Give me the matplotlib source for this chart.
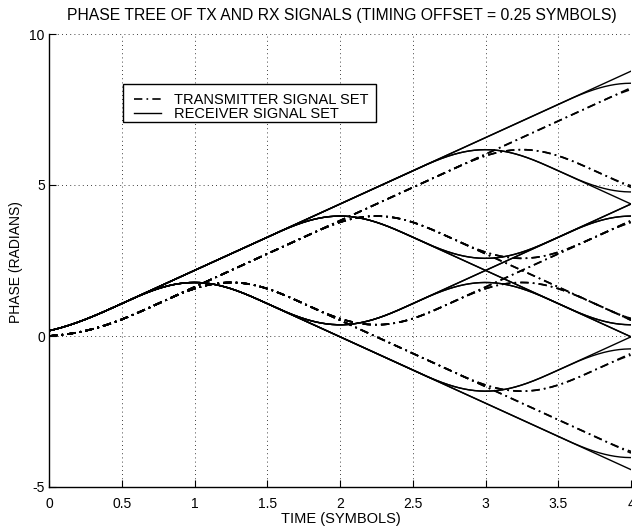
import numpy as np
import matplotlib.pyplot as plt
from matplotlib.lines import Line2D
from matplotlib.patches import Rectangle
from itertools import product

plt.rcParams['font.family'] = ['Liberation Sans', 'DejaVu Sans']

# 2RC CPM parameters of the phase tree
mod_index = 0.7          # h
pulse_len = 2            # raised cosine frequency pulse length (symbols)
timing_offset = 0.25     # receiver timing offset (symbols)
first_symbol = 1         # first symbol is fixed
n_free = 4               # free binary symbols that follow
pulse_start = -0.25      # start of the first symbol pulse at the transmitter

x_ticks = [0, 0.5, 1, 1.5, 2, 2.5, 3, 3.5, 4]
x_ticklabels = ['0', '0.5', '1', '1.5', '2', '2.5', '3', '3.5', '4']
y_ticks = [-5, 0, 5, 10]
y_ticklabels = ['-5', '0', '5', '10']


def phase_pulse(t):
    # integral of the LRC frequency pulse, rises 0 -> 1/2 over pulse_len
    t = np.clip(t, 0, pulse_len)
    return t / (2 * pulse_len) - np.sin(2 * np.pi * t / pulse_len) / (4 * np.pi)


def tx_phase(t, symbols):
    phi = np.zeros_like(t)
    for k, a in enumerate(symbols):
        s = pulse_start + k
        phi += a * (phase_pulse(t - s) - phase_pulse(-s))
    return 2 * np.pi * mod_index * phi


t = np.linspace(0, 4, 801)
sequences = [(first_symbol,) + rest for rest in product([1, -1], repeat=n_free)]

fig = plt.figure(figsize=(6.32, 5.27), dpi=100)
W, H = 632, 527
ax = fig.add_axes([49 / W, 1 - 487 / H, 582 / W, 453 / H])

dashdot = (5, 2.5, 1, 2.5)
for seq in sequences:
    ax.plot(t, tx_phase(t, seq), color='k', lw=1.2,
            dashes=dashdot, dash_capstyle='butt')
    ax.plot(t, tx_phase(t + timing_offset, seq), color='k', lw=1.0)

ax.set_xlim(0, 4)
ax.set_ylim(-5, 10)
ax.set_xticks(x_ticks)
ax.set_xticklabels(x_ticklabels)
ax.set_yticks(y_ticks)
ax.set_yticklabels(y_ticklabels)
ax.tick_params(direction='in', length=5, width=0.8, labelsize=10,
               top=False, right=False)
ax.tick_params(axis='x', pad=7)
ax.tick_params(axis='y', pad=3)
for side in ['top', 'right']:
    ax.spines[side].set_visible(False)
for side in ['left', 'bottom']:
    ax.spines[side].set_linewidth(1.0)
ax.grid(True, color='k', linestyle=(0, (1, 4)), lw=0.6)

fig.text(342 / W, 1 - 20 / H,
         'PHASE TREE OF TX AND RX SIGNALS (TIMING OFFSET = 0.25 SYMBOLS)',
         ha='center', va='baseline', fontsize=11.3)
fig.text(341 / W, 1 - 523 / H, 'TIME (SYMBOLS)', ha='center',
         va='baseline', fontsize=10.5)
fig.text(16 / W, 1 - 262 / H, 'PHASE (RADIANS)', ha='center', va='center',
         rotation=90, fontsize=10)

# legend: white box with the two line styles
box = Rectangle((123 / W, 1 - 122 / H), 253 / W, 38 / H,
                transform=fig.transFigure, facecolor='white',
                edgecolor='k', lw=1.0, zorder=5)
fig.add_artist(box)
handles = [Line2D([], [], color='k', lw=1.2, dashes=dashdot),
           Line2D([], [], color='k', lw=1.0)]
leg = fig.legend(handles, ['TRANSMITTER SIGNAL SET', 'RECEIVER SIGNAL SET'],
                 loc='upper left', bbox_to_anchor=(127 / W, 1 - 86 / H),
                 frameon=False, fontsize=10.5, borderpad=0,
                 handlelength=1.8, handletextpad=0.95, labelspacing=0.0)
leg.set_zorder(6)

fig.savefig('out.png', dpi=100)
